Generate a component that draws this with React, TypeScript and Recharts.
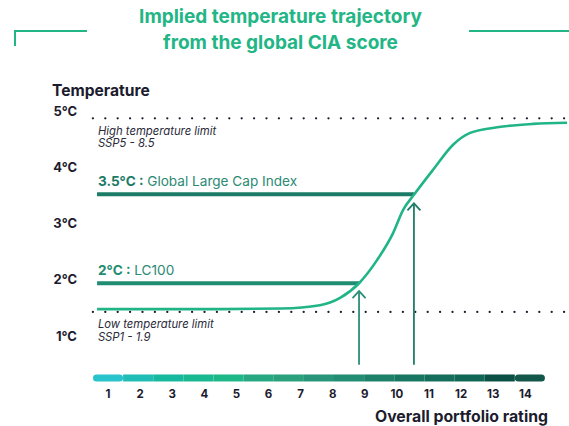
import React from 'react';
import { ComposedChart, Line, XAxis, YAxis, ReferenceLine, ReferenceDot } from 'recharts';

// ---- data ----
const ratingTicks = [1, 2, 3, 4, 5, 6, 7, 8, 9, 10, 11, 12, 13, 14];
const tempTicks = [1, 2, 3, 4, 5];

const curveRatings = [0.66, 2.5, 4.5, 6.4, 7.6, 8.23, 8.82, 9.38, 9.88, 10.19, 10.53, 11.12, 11.75, 12.28, 13.12, 14.24, 15.3];
const curveTemps = [1.48, 1.48, 1.48, 1.49, 1.55, 1.68, 1.94, 2.35, 2.83, 3.24, 3.51, 3.95, 4.4, 4.61, 4.71, 4.77, 4.79];

const limitTemps = [4.87, 1.43];
const limitTitles = ['High temperature limit', 'Low temperature limit'];
const limitScenarios = ['SSP5 - 8.5', 'SSP1 - 1.9'];
const limitRange = [0.53, 15.3];

const indexTempLabels = ['2°C :', '3.5°C :'];
const indexNames = ['LC100', 'Global Large Cap Index'];
const indexTemps = [1.94, 3.52];
const indexRatings = [8.82, 10.53];
const indexStart = 0.66;
const indexColors = ['#1f8d71', '#1b7b66'];
const arrowColors = ['#2a8f78', '#1e7d68'];
const arrowBase = 0.49;
const arrowTipTemps = [1.8, 3.36];

const scaleColors = ['#29c3cb', '#1fbdb6', '#16b99d', '#18b890', '#1eb888', '#28a783', '#2aa07d', '#289479', '#238d74', '#1d816a', '#187763', '#156e5b', '#116756', '#0b5045', '#13574a'];
const scaleRange = [0.533, 14.61];
const scaleTemp = 0.257;

const curveData = curveRatings.map((r, i) => ({ r, t: curveTemps[i] }));

const DARK = '#1c1c2e';
const GREEN = '#22b585';
const FONT = 'Inter, "Open Sans", sans-serif';

const capR = 3.5 / 32.1;

const Chevron = (color: string) => (props: any) => {
  const { cx, cy } = props;
  return (
    <path
      d={`M${cx - 6.5},${cy + 7} L${cx},${cy} L${cx + 6.5},${cy + 7}`}
      stroke={color}
      strokeWidth={1.8}
      fill="none"
    />
  );
};

export default function App() {
  const segW = (scaleRange[1] - scaleRange[0]) / scaleColors.length;
  const last = scaleColors.length - 1;

  return (
    <div style={{ position: 'absolute', left: 0, top: 0, width: 569, height: 426, fontFamily: FONT, background: '#fff' }}>
      {/* title */}
      <div
        style={{
          position: 'absolute', left: 0, width: 561, top: 4, textAlign: 'center',
          color: GREEN, fontWeight: 700, fontSize: 19, lineHeight: '26px',
        }}
      >
        Implied temperature trajectory<br />from the global CIA score
      </div>
      {/* decorative brackets */}
      <div style={{ position: 'absolute', left: 14, top: 30, width: 73, height: 2.4, background: GREEN }} />
      <div style={{ position: 'absolute', left: 14, top: 30, width: 2.4, height: 16, background: GREEN }} />
      <div style={{ position: 'absolute', left: 469, top: 30, width: 100, height: 2.4, background: GREEN }} />

      <div style={{ position: 'absolute', left: 52, top: 80, color: DARK, fontWeight: 700, fontSize: 15.6, lineHeight: '21px' }}>
        Temperature
      </div>
      <div style={{ position: 'absolute', right: 21, top: 406, color: DARK, fontWeight: 700, fontSize: 15.8, lineHeight: '21px' }}>
        Overall portfolio rating
      </div>

      <div style={{ position: 'absolute', left: 0, top: 0 }}>
        <ComposedChart width={569} height={426} data={curveData} margin={{ top: 80, right: 0, bottom: 12, left: 0 }}>
          <XAxis
            dataKey="r"
            type="number"
            domain={[0.44, 15.36]}
            ticks={ratingTicks}
            allowDataOverflow
            axisLine={false}
            tickLine={false}
            tickSize={0}
            tickMargin={6}
            height={30}
            interval={0}
            tick={{ fill: DARK, fontSize: 11.5, fontWeight: 700, fontFamily: FONT }}
          />
          <YAxis
            type="number"
            domain={[0.15, 5.55]}
            ticks={tempTicks}
            allowDataOverflow
            axisLine={false}
            tickLine={false}
            tickSize={0}
            tickMargin={13}
            width={90}
            interval={0}
            tickFormatter={(v: number) => `${v}°C`}
            tick={{ fill: DARK, fontSize: 13, fontWeight: 700, fontFamily: FONT }}
          />

          {/* temperature limits */}
          {limitTemps.map((t, i) => (
            <ReferenceLine
              key={`lim${i}`}
              segment={[{ x: limitRange[0], y: t }, { x: limitRange[1], y: t }]}
              stroke={DARK}
              strokeWidth={2.3}
              strokeDasharray="0 12.4"
              strokeLinecap="round"
              label={{
                content: (p: any) => {
                  const vb = p.viewBox || {};
                  return (
                    <g>
                      <text x={vb.x + 5} y={vb.y + 12.5} dominantBaseline="central" fontSize={11.3} fontStyle="italic" fill="#2a2a3a" fontFamily={FONT}>
                        {limitTitles[i]}
                      </text>
                      <text x={vb.x + 5} y={vb.y + 25} dominantBaseline="central" fontSize={11.3} fontStyle="italic" fill="#2a2a3a" fontFamily={FONT}>
                        {limitScenarios[i]}
                      </text>
                    </g>
                  );
                },
              }}
            />
          ))}

          {/* gradient rating scale: rounded ends first */}
          <ReferenceLine
            segment={[{ x: scaleRange[0] + capR, y: scaleTemp }, { x: scaleRange[0] + segW - capR, y: scaleTemp }]}
            stroke={scaleColors[0]} strokeWidth={7} strokeLinecap="round"
          />
          <ReferenceLine
            segment={[{ x: scaleRange[1] - segW + capR, y: scaleTemp }, { x: scaleRange[1] - capR, y: scaleTemp }]}
            stroke={scaleColors[last]} strokeWidth={7} strokeLinecap="round"
          />
          {scaleColors.map((c, i) =>
            i === 0 || i === last ? null : (
              <ReferenceLine
                key={`sc${i}`}
                segment={[{ x: scaleRange[0] + i * segW, y: scaleTemp }, { x: scaleRange[0] + (i + 1) * segW, y: scaleTemp }]}
                stroke={c}
                strokeWidth={7}
                strokeLinecap="butt"
              />
            )
          )}

          {/* index bars */}
          {indexTemps.map((t, i) => (
            <ReferenceLine
              key={`ix${i}`}
              segment={[{ x: indexStart, y: t }, { x: indexRatings[i], y: t }]}
              stroke={indexColors[i]}
              strokeWidth={4}
              label={{
                content: (p: any) => {
                  const vb = p.viewBox || {};
                  return (
                    <text x={vb.x + 1} y={vb.y - 13.5} dominantBaseline="central" fontSize={13.6} fontFamily={FONT}>
                      <tspan fontWeight={700} fill={indexColors[i]}>{indexTempLabels[i]}</tspan>
                      <tspan fill="#2b8a74"> {indexNames[i]}</tspan>
                    </text>
                  );
                },
              }}
            />
          ))}

          {/* arrows */}
          {indexRatings.map((r, i) => (
            <ReferenceLine
              key={`ar${i}`}
              segment={[{ x: r, y: arrowBase }, { x: r, y: arrowTipTemps[i] }]}
              stroke={arrowColors[i]}
              strokeWidth={1.8}
            />
          ))}
          {indexRatings.map((r, i) => (
            <ReferenceDot key={`ah${i}`} x={r} y={arrowTipTemps[i]} r={0} shape={Chevron(arrowColors[i])} />
          ))}

          <Line
            type="monotone"
            dataKey="t"
            stroke="#20b486"
            strokeWidth={2.6}
            dot={false}
            activeDot={false}
            isAnimationActive={false}
          />
        </ComposedChart>
      </div>
    </div>
  );
}
